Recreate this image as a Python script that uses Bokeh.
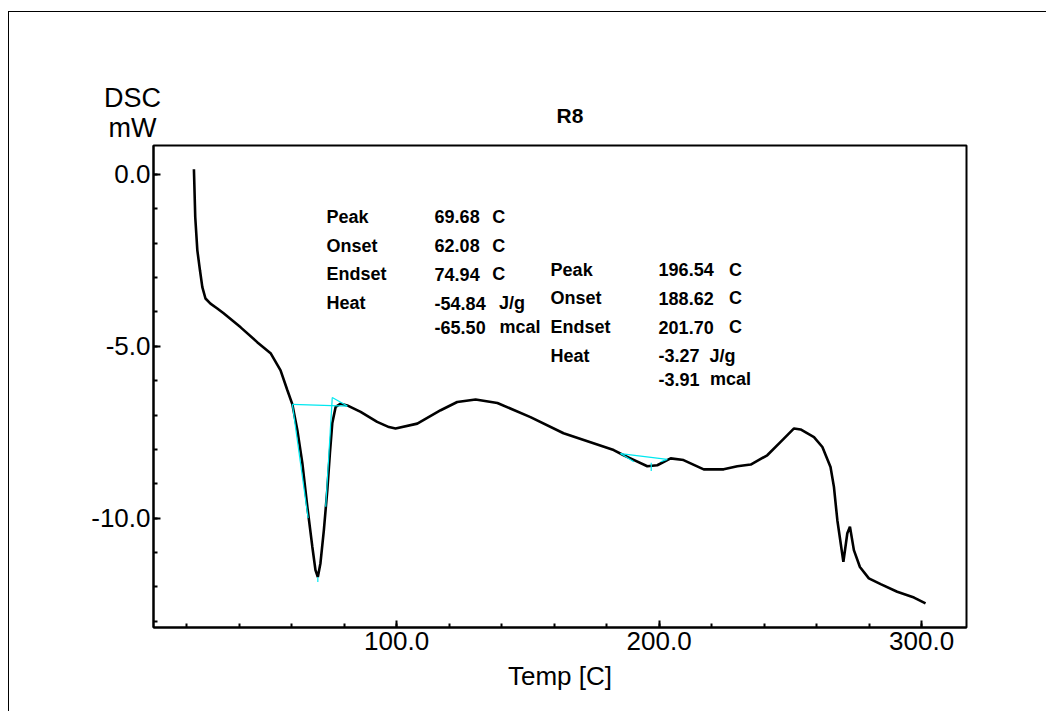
from bokeh.plotting import figure
from bokeh.models import FixedTicker, NumeralTickFormatter, Range1d, Label, Title, ColumnDataSource
from bokeh.layouts import column
from bokeh.embed import file_html
from bokeh.resources import INLINE
from bokeh.core.properties import value

# ---------------- data ----------------
temp = [22.8, 23.3, 24.1, 25.1, 26.0, 27.2, 29.1, 31.7, 34.1, 40.6, 46.9, 52.0, 55.8,
        58.4, 60.3, 62.2, 64.1, 66.0, 67.9, 69.1, 70.0, 71.0, 72.3, 73.6, 74.6, 75.5,
        76.8, 78.7, 81.2, 86.3, 92.6, 97.1, 99.6, 107.9, 116.8, 123.1, 130.1, 138.4,
        151.0, 163.6, 182.7, 186.5, 189.1, 195.5, 199.3, 204.4, 209.3, 217.0, 224.6,
        229.8, 234.9, 241.2, 246.3, 251.4, 253.9, 259.0, 262.2, 265.3, 266.6, 267.9,
        270.2, 271.7, 272.7, 274.2, 276.5, 279.9, 284.4, 290.7, 297.1, 301.5]
dsc = [0.15, -1.24, -2.21, -2.79, -3.28, -3.61, -3.76, -3.90, -4.04, -4.45, -4.88, -5.20,
       -5.70, -6.28, -6.69, -7.44, -8.40, -9.67, -10.83, -11.51, -11.71, -11.31, -10.35,
       -9.19, -8.11, -7.24, -6.76, -6.67, -6.72, -6.91, -7.20, -7.35, -7.39, -7.25, -6.86,
       -6.62, -6.55, -6.65, -7.06, -7.53, -8.02, -8.17, -8.26, -8.49, -8.46, -8.26, -8.31,
       -8.58, -8.58, -8.49, -8.44, -8.17, -7.78, -7.39, -7.42, -7.64, -7.93, -8.51, -9.09,
       -10.06, -11.27, -10.44, -10.25, -10.93, -11.42, -11.75, -11.92, -12.14, -12.31, -12.48]

# analysis construction lines (cyan)
seg_x0 = [60.3, 60.3, 75.5, 75.5, 70.0, 185.3, 185.3, 200.6, 197.0]
seg_y0 = [-6.69, -6.69, -6.49, -6.49, -11.71, -8.12, -8.12, -8.36, -8.39]
seg_x1 = [81.2, 66.3, 73.0, 81.2, 70.0, 203.1, 190.4, 203.1, 197.0]
seg_y1 = [-6.74, -10.0, -9.67, -6.74, -11.86, -8.29, -8.36, -8.29, -8.63]

x_major = [100, 200, 300]
x_minor = list(range(20, 320, 20))
y_major = [-10, -5, 0]
y_minor = list(range(-13, 1, 1))

# result tables
p1_labels = ["Peak", "Onset", "Endset", "Heat"]
p1_values = ["69.68", "62.08", "74.94", "-54.84", "-65.50"]
p1_units = ["C", "C", "C", "J/g", "mcal"]
p2_labels = ["Peak", "Onset", "Endset", "Heat"]
p2_values = ["196.54", "188.62", "201.70", "-3.27", "-3.91"]
p2_units = ["C", "C", "C", "J/g", "mcal"]

# ---------------- figure ----------------
FONT = "Liberation Sans"

p = figure(frame_width=813, frame_height=482,
           x_range=Range1d(7.4, 317.1), y_range=Range1d(-13.18, 0.84),
           output_backend="svg", toolbar_location=None,
           min_border_left=144, min_border_top=133,
           min_border_right=80, min_border_bottom=84)
p.grid.visible = False
p.outline_line_color = "black"
p.outline_line_width = 2
p.background_fill_color = "white"
p.border_fill_color = "white"

for ax in (p.xaxis[0], p.yaxis[0]):
    ax.axis_line_width = 2
    ax.major_tick_line_width = 2
    ax.minor_tick_line_width = 2
    ax.major_tick_in = 7
    ax.major_tick_out = 0
    ax.minor_tick_in = 4
    ax.minor_tick_out = 0
    ax.major_label_text_font = FONT
    ax.major_label_text_font_size = "26px"
    ax.major_label_text_color = "black"
    ax.formatter = NumeralTickFormatter(format="0.0")

p.xaxis.ticker = FixedTicker(ticks=x_major, minor_ticks=x_minor)
p.yaxis.ticker = FixedTicker(ticks=y_major, minor_ticks=y_minor)
p.xaxis.major_label_standoff = 4
p.yaxis.major_label_standoff = 3
p.xaxis.axis_label = "Temp [C]"
p.xaxis.axis_label_text_font = FONT
p.xaxis.axis_label_text_font_size = "26px"
p.xaxis.axis_label_text_font_style = "normal"
p.xaxis.axis_label_text_color = "black"
p.xaxis.axis_label_standoff = 8

# curve
p.line(temp, dsc, line_color="black", line_width=2.6)
p.segment(seg_x0, seg_y0, seg_x1, seg_y1, line_color="#00e8f0", line_width=1.2)

# result text blocks
rows1_y = [-1.23, -2.08, -2.90, -3.75, -4.45]
rows2_y = [-2.78, -3.61, -4.45, -5.28, -5.96]
src_l = ColumnDataSource(dict(
    x=[73.33] * 4 + [158.67] * 4,
    y=rows1_y[:4] + rows2_y[:4],
    t=p1_labels + p2_labels))
src_v = ColumnDataSource(dict(
    x=[114.48] * 5 + [199.81] * 5,
    y=rows1_y + rows2_y,
    t=p1_values + p2_values))
src_u = ColumnDataSource(dict(
    x=[136.46, 136.46, 136.46, 138.97, 139.24, 226.59, 226.59, 226.59, 219.24, 219.35],
    y=rows1_y + rows2_y,
    t=p1_units + p2_units))
for s in (src_l, src_v, src_u):
    p.text(x="x", y="y", text="t", source=s, text_font=value(FONT),
           text_font_size="18px", text_font_style="bold", text_color="black",
           text_baseline="alphabetic", text_align="left")

# title above the frame
p.add_layout(Title(text="R8", align="left", offset=403, standoff=38,
                   text_font=FONT, text_font_size="21px", text_font_style="bold",
                   text_color="black"), "above")

# y-axis name above the axis (side panel, so it is not clipped to the frame)
p.add_layout(Label(x=-0.6, y=2.21, text="DSC",
                   text_font=FONT, text_font_size="27px", text_color="black",
                   text_align="center", text_baseline="alphabetic"), "above")
p.add_layout(Label(x=-0.6, y=1.34, text="mW",
                   text_font=FONT, text_font_size="27px", text_color="black",
                   text_align="center", text_baseline="alphabetic"), "above")

layout = column(p, styles={"border-top": "1px solid black",
                           "border-left": "1px solid black",
                           "margin-top": "11px", "margin-left": "8px"})

open("out.html", "w").write(file_html(layout, INLINE))
